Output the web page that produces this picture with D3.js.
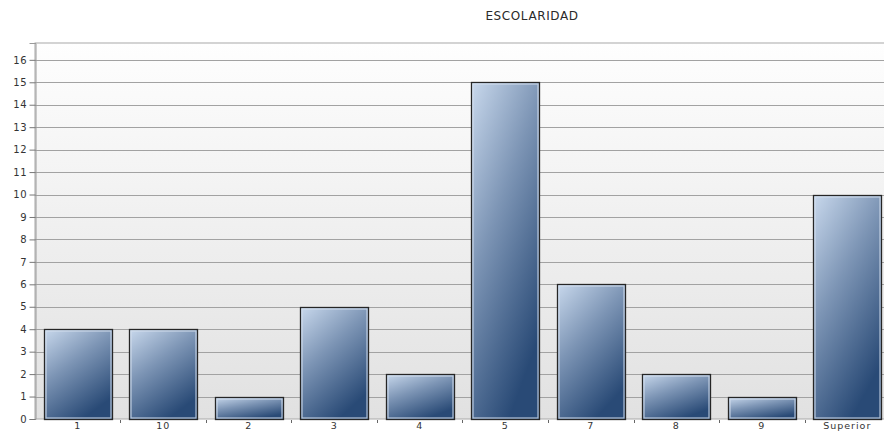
<!DOCTYPE html>
<html>
<head>
<meta charset="utf-8">
<script src="https://cdn.jsdelivr.net/npm/d3@7"></script>
<style>
  body { margin: 0; background: #fff; overflow: hidden; }
  svg { display: block; font-family: "DejaVu Sans", Verdana, sans-serif; }
</style>
</head>
<body>
<div id="container"></div>
<script>
const categories = ["1", "10", "2", "3", "4", "5", "7", "8", "9", "Superior"];
const values = [4, 4, 1, 5, 2, 15, 6, 2, 1, 10];
const yTicks = [0, 1, 2, 3, 4, 5, 6, 7, 8, 9, 10, 11, 12, 13, 14, 15, 16];

const width = 884;
const height = 431;
const margin = { top: 43, right: -6, bottom: 12, left: 35 };

const setAttrs = (el, attrs) =>
  Object.entries(attrs).reduce((acc, [key, val]) => acc.attr(key, val), el);

const svg = d3.select("#container").append("svg");
setAttrs(svg, { width, height });

const defs = svg.append("defs");

const bgGrad = defs.append("linearGradient");
setAttrs(bgGrad, { id: "bgGrad", x1: 0, y1: 0, x2: 0, y2: 1 });
bgGrad.append("stop").attr("offset", "0%").attr("stop-color", "#fefefe");
bgGrad.append("stop").attr("offset", "100%").attr("stop-color", "#e1e1e1");

const barGrad = defs.append("linearGradient");
setAttrs(barGrad, { id: "barGrad", x1: 0, y1: 0, x2: 0.55, y2: 1 });
barGrad.append("stop").attr("offset", "0%").attr("stop-color", "#c8d8ec");
barGrad.append("stop").attr("offset", "45%").attr("stop-color", "#7d95b5");
barGrad.append("stop").attr("offset", "100%").attr("stop-color", "#294a76");

const x = d3
  .scaleBand()
  .domain(categories)
  .range([margin.left, width - margin.right])
  .paddingInner(0.2)
  .paddingOuter(0.1);

const y = d3
  .scaleLinear()
  .domain([0, 16.75])
  .range([height - margin.bottom, margin.top]);

// plot background
const plot = svg.append("rect");
setAttrs(plot, {
  x: margin.left,
  y: margin.top,
  width: width - margin.right - margin.left,
  height: y(0) - margin.top,
  fill: "url(#bgGrad)",
  stroke: "#a8a8a8"
});

// grid lines
svg
  .append("g")
  .selectAll("line")
  .data(yTicks.slice(1))
  .join("line")
  .attr("x1", margin.left)
  .attr("x2", width)
  .attr("y1", (d) => Math.round(y(d)) + 0.5)
  .attr("y2", (d) => Math.round(y(d)) + 0.5)
  .attr("stroke", "#a2a2a2");

// y axis
const yAxis = svg
  .append("g")
  .attr("transform", `translate(${margin.left + 0.5},0)`)
  .call(d3.axisLeft(y).tickValues(yTicks).tickSize(6).tickPadding(2));
yAxis.select(".domain").attr("stroke", "#9a9a9a");
yAxis.selectAll(".tick line").attr("stroke", "#777");
yAxis.selectAll(".tick text").attr("font-size", 10).attr("fill", "#333")
  .attr("letter-spacing", 0.8)
  .attr("font-family", "DejaVu Sans, Verdana, sans-serif");

// x axis: ticks between bands
const step = x.step();
const bounds = categories.slice(1).map((c) => x(c) - (step * 0.2) / 2);
svg
  .append("g")
  .selectAll("line")
  .data(bounds)
  .join("line")
  .attr("x1", (d) => Math.round(d) + 0.5)
  .attr("x2", (d) => Math.round(d) + 0.5)
  .attr("y1", y(0) + 1)
  .attr("y2", y(0) + 4)
  .attr("stroke", "#666");

svg
  .append("g")
  .selectAll("text")
  .data(categories)
  .join("text")
  .attr("x", (d) => x(d) + x.bandwidth() / 2)
  .attr("y", y(0) + 10)
  .attr("text-anchor", "middle")
  .attr("font-size", 9.5)
  .attr("letter-spacing", 1)
  .attr("fill", "#333")
  .text((d) => d);

// bars
const bars = svg
  .append("g")
  .selectAll("g")
  .data(categories.map((c, i) => ({ c, v: values[i] })))
  .join("g");

bars
  .append("rect")
  .attr("x", (d) => Math.round(x(d.c)) + 0.5)
  .attr("y", (d) => Math.round(y(d.v)) + 0.5)
  .attr("width", Math.round(x.bandwidth()))
  .attr("height", (d) => Math.round(y(0)) - Math.round(y(d.v)))
  .attr("fill", "url(#barGrad)")
  .attr("stroke", "#262626")
  .attr("stroke-width", 1.3);

bars
  .append("rect")
  .attr("x", (d) => Math.round(x(d.c)) + 2)
  .attr("y", (d) => Math.round(y(d.v)) + 2)
  .attr("width", Math.round(x.bandwidth()) - 3)
  .attr("height", (d) => Math.round(y(0)) - Math.round(y(d.v)) - 3)
  .attr("fill", "none")
  .attr("stroke", "#d5e0ee")
  .attr("stroke-opacity", 0.8)
  .attr("stroke-width", 1.2);

// title
svg
  .append("text")
  .attr("x", 532)
  .attr("y", 20)
  .attr("text-anchor", "middle")
  .attr("font-size", 12)
  .attr("letter-spacing", 0.6)
  .attr("fill", "#2a2a2a")
  .text("ESCOLARIDAD");
</script>
</body>
</html>
